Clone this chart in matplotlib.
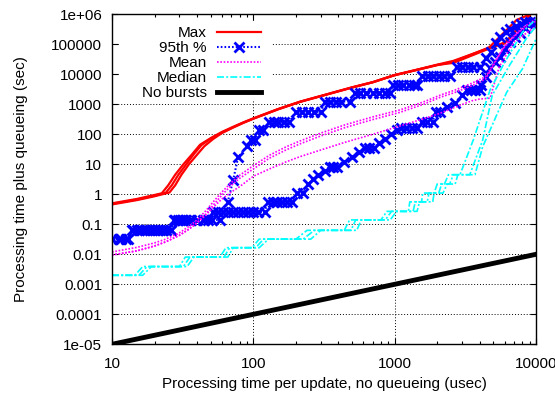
import matplotlib
matplotlib.use("Agg")
import matplotlib.pyplot as plt
from matplotlib.patches import Rectangle

plt.rcParams['font.family'] = ['Liberation Sans', 'DejaVu Sans']
plt.rcParams['font.size'] = 11

# ---------------- data ----------------
XTICKS = [10, 100, 1000, 10000]
XTICK_LABELS = ['10', '100', '1000', '10000']
YTICKS = [1e-5, 1e-4, 1e-3, 1e-2, 1e-1, 1, 10, 100, 1000, 1e4, 1e5, 1e6]
YTICK_LABELS = ['1e-05', '0.0001', '0.001', '0.01', '0.1', '1', '10', '100',
                '1000', '10000', '100000', '1e+06']

MAX1_X = [10, 15, 20, 22.5, 25, 28, 32, 37, 42, 50, 60, 72, 85, 100, 150, 214, 300,
          500, 700, 1000, 1500, 2000, 2600, 4600, 7300, 9100]
MAX1_Y = [0.5, 0.7, 0.95, 1.08, 2.0, 4.5, 10, 22, 45, 75, 120, 178, 250, 340, 700, 1230,
          1900, 3700, 5500, 9500, 15000, 21000, 28000, 74000, 650000, 1000000]
MAX2_X = [10, 15, 20, 24, 26.5, 29.5, 33.5, 38, 43, 50, 60, 72, 85, 100, 150, 214, 300,
          500, 700, 1000, 1500, 2000, 2600, 6200, 9100]
MAX2_Y = [0.48, 0.67, 0.9, 1.12, 2.0, 4.5, 10, 22, 44, 72, 115, 172, 245, 335, 690, 1210,
          1880, 3650, 5450, 9400, 14800, 20500, 24000, 123000, 1000000]
MAX3_X = [10, 15, 20, 25.5, 28, 31, 35, 40, 45, 52, 60, 72, 85, 100, 150, 214, 300,
          500, 700, 1000, 1500, 2000, 2600, 4700, 6000, 9100]
MAX3_Y = [0.46, 0.64, 0.86, 1.15, 2.0, 4.5, 10, 21, 40, 70, 110, 168, 240, 330, 680, 1200,
          1860, 3600, 5400, 9300, 14600, 20200, 26000, 80000, 108000, 1000000]

P95A_X = [10, 11.2, 12.5, 13.8, 15, 16.3, 17.7, 19.2, 20.8, 22.5, 24.3, 26,
          27.5, 29.3, 31.2, 33.2, 35.5, 45, 51, 58, 66, 72, 78, 90, 97, 103, 110, 117,
          130, 140, 150, 165, 180, 200, 220, 245, 270, 300, 320, 350, 385, 420, 480,
          520, 570, 630, 700, 780, 860, 930, 970, 1050, 1150, 1260, 1360, 1450,
          1570, 1720, 1880, 2060, 2250, 2450, 2760, 3000, 3300, 3600, 4000,
          4450, 4800, 5200, 5600, 6100, 6600, 7200, 7800, 8400, 9100, 9800]
P95A_Y = [0.032, 0.032, 0.032, 0.065, 0.065, 0.065, 0.065, 0.065, 0.065, 0.065, 0.065, 0.065,
          0.14, 0.14, 0.14, 0.14, 0.14, 0.14, 0.14, 0.14, 0.56, 3, 17, 40, 65, 65, 137, 137,
          260, 260, 260, 260, 260, 560, 560, 560, 560, 560, 1230, 1230, 1230, 1230, 1230,
          2400, 2400, 2400, 2400, 2400, 2400, 2400, 4400, 4400, 4400, 4400, 4400, 4400,
          9000, 9000, 9000, 9000, 9000, 9000, 18000, 18000, 18000, 18000, 18000,
          35000, 56000, 110000, 180000, 260000, 330000, 400000, 480000, 560000, 560000, 560000]
P95B_X = [10, 11.5, 13, 14, 15.5, 17, 18.5, 20, 22, 24, 26, 28, 30.5, 33, 36, 40, 44, 48,
          52, 56, 61, 66, 72, 78, 85, 92, 100, 108, 120, 127, 137, 148, 160, 173, 188,
          205, 225, 244, 265, 287, 320, 347, 368, 390, 440, 500, 560, 615, 660, 710,
          780, 850, 940, 1040, 1100, 1200, 1320, 1440, 1560, 1700, 1860, 1950, 2090,
          2350, 2680, 3000, 3240, 3450, 3700, 4000, 4100, 4400, 4730, 5100, 5570, 6000,
          6560, 7100, 7700, 8400, 9100, 9800]
P95B_Y = [0.032, 0.032, 0.032, 0.065, 0.065, 0.065, 0.065, 0.065, 0.065, 0.065, 0.065,
          0.14, 0.14, 0.14, 0.14, 0.14, 0.14, 0.14,
          0.26, 0.26, 0.26, 0.26, 0.26, 0.26, 0.26, 0.26, 0.26, 0.26, 0.26,
          0.56, 0.56, 0.56, 0.56, 0.56, 0.56, 1.1, 1.1, 2.2, 3.2, 4.4, 6, 8.3, 8.3, 8.3,
          12, 17, 25, 34, 34, 34, 50, 68, 100, 137, 160, 160, 160, 160, 265, 265, 265,
          560, 560, 800, 1070, 2000, 3000, 3000, 3000, 3000, 4400, 8000, 16000, 25000,
          39000, 70000, 120000, 180000, 240000, 350000, 500000, 500000]

MEAN1_X = [10, 15, 20, 24, 30, 35, 40, 46, 53, 60, 70, 80, 100, 130, 170, 214, 300, 450,
           700, 1090, 1600, 2090, 2680, 3500, 4400, 5200, 6200, 8000, 10000]
MEAN1_Y = [0.012, 0.017, 0.024, 0.032, 0.052, 0.085, 0.14, 0.28, 0.62, 1.2, 2.5, 4.3, 9,
           20, 38, 60, 110, 210, 380, 650, 1200, 2000, 3000, 5000, 8300, 30000, 110000,
           350000, 700000]
MEAN2_X = [10, 15, 20, 24, 30, 35, 40, 46, 53, 60, 70, 80, 100, 130, 170, 214, 300, 450,
           700, 1090, 1600, 2090, 2680, 3500, 4400, 5000, 5800, 7500, 10000]
MEAN2_Y = [0.0095, 0.013, 0.019, 0.026, 0.043, 0.07, 0.115, 0.22, 0.48, 0.95, 2.0, 3.4, 7,
           16, 30, 48, 88, 170, 310, 540, 1000, 1700, 2500, 4100, 7000, 20000, 70000,
           250000, 600000]
MEAN3_X = [10, 15, 20, 24, 30, 35, 40, 46, 53, 60, 70, 80, 100, 130, 170, 214, 300, 450,
           700, 1090, 1600, 2090, 2680, 3500, 4000, 4730, 5500, 7000, 10000]
MEAN3_Y = [0.0095, 0.013, 0.019, 0.026, 0.043, 0.068, 0.11, 0.2, 0.4, 0.7, 1.2, 1.8, 4.0,
           7, 12, 18, 30, 55, 100, 190, 330, 500, 800, 1300, 1500, 1600, 18000, 120000,
           400000]

MED1_X = [10, 14.5, 16.5, 30, 33, 58, 64, 98, 110, 200, 240, 440, 480, 800, 880, 1250,
          1280, 1550, 1580, 1900, 2000, 2250, 2400, 2900, 3600, 4730, 6000, 8000, 10000]
MED1_Y = [0.002, 0.002, 0.0039, 0.0039, 0.0081, 0.0081, 0.0166, 0.0166, 0.032, 0.032,
          0.063, 0.063, 0.14, 0.14, 0.27, 0.27, 0.56, 0.56, 1.1, 1.1, 2.2, 2.2, 4.5, 4.5,
          65, 3000, 25000, 250000, 700000]
MED2_X = [10, 15.5, 17.7, 32, 35.6, 62, 68, 104, 118, 225, 270, 490, 530, 860, 950, 1350,
          1400, 1700, 1750, 2050, 2150, 2450, 2600, 3400, 4200, 4900, 6500, 8500, 10000]
MED2_Y = [0.002, 0.002, 0.0039, 0.0039, 0.0081, 0.0081, 0.0166, 0.0166, 0.032, 0.032,
          0.063, 0.063, 0.14, 0.14, 0.27, 0.27, 0.56, 0.56, 1.1, 1.1, 2.2, 2.2, 4.5, 4.5,
          65, 2000, 20000, 150000, 400000]
MED3_X = [10, 16.5, 19, 34, 38, 66, 72, 110, 128, 255, 300, 540, 580, 930, 1030, 1440,
          1500, 1860, 1900, 2200, 2350, 2680, 2800, 3700, 4200, 4730, 6200, 8000, 10000]
MED3_Y = [0.002, 0.002, 0.0039, 0.0039, 0.0081, 0.0081, 0.0166, 0.0166, 0.032, 0.032,
          0.063, 0.063, 0.14, 0.14, 0.27, 0.27, 0.56, 0.56, 1.1, 1.1, 2.2, 2.2, 4.5, 4.5,
          39, 138, 2500, 15000, 150000]

NOB_X = [10, 10000]
NOB_Y = [1e-5, 0.01]

# ---------------- plot ----------------
fig = plt.figure(figsize=(5.55, 3.94), dpi=100)
ax = fig.add_axes([112 / 555, 1 - 344.3 / 394, 424 / 555, 330 / 394])
ax.set_xscale('log')
ax.set_yscale('log')
ax.set_xlim(10, 10000)
ax.set_ylim(1e-5, 1e6)

# dotted grid (drawn manually so the key box can mask it)
for v in YTICKS[1:-1]:
    ax.axhline(v, color='black', lw=0.7, ls=(0, (1, 2)), zorder=0.5)
for v in XTICKS[1:-1]:
    ax.axvline(v, color='black', lw=0.7, ls=(0, (1, 2)), zorder=0.5)
ax.add_patch(Rectangle((0.017, 0.739), 0.36, 0.241, transform=ax.transAxes,
                       facecolor='white', edgecolor='none', zorder=1.0))

RED, BLUE, MAG, CYAN = '#ff0000', '#0000ff', '#ff00ff', '#00ffff'

h_max = None
for x, y in [(MAX1_X, MAX1_Y), (MAX2_X, MAX2_Y), (MAX3_X, MAX3_Y)]:
    l, = ax.plot(x, y, color=RED, lw=1.6, zorder=2)
    h_max = h_max or l
h_95 = None
for x, y in [(P95A_X, P95A_Y), (P95B_X, P95B_Y)]:
    l, = ax.plot(x, y, color=BLUE, lw=1.5, ls=(0, (0.8, 1.0)), marker='x', ms=7,
                 mew=2.0, zorder=2.1)
    h_95 = h_95 or l
h_mean = None
for x, y in [(MEAN1_X, MEAN1_Y), (MEAN2_X, MEAN2_Y), (MEAN3_X, MEAN3_Y)]:
    l, = ax.plot(x, y, color=MAG, lw=1.2, ls=(0, (1, 1)), zorder=2.2)
    h_mean = h_mean or l
h_med = None
for x, y in [(MED1_X, MED1_Y), (MED2_X, MED2_Y), (MED3_X, MED3_Y)]:
    l, = ax.plot(x, y, color=CYAN, lw=1.2, ls=(0, (4.2, 1.3, 1.2, 1.3)), zorder=2.3)
    h_med = h_med or l
h_nob, = ax.plot(NOB_X, NOB_Y, color='black', lw=3.5, zorder=2.4)

ax.set_xticks(XTICKS, labels=XTICK_LABELS)
ax.set_yticks(YTICKS, labels=YTICK_LABELS)
ax.yaxis.set_minor_formatter(matplotlib.ticker.NullFormatter())
ax.xaxis.set_minor_formatter(matplotlib.ticker.NullFormatter())
ax.tick_params(which='both', direction='in', top=True, right=True, width=0.8)
ax.tick_params(which='major', length=4.5)
ax.tick_params(which='minor', length=2.3)
ax.tick_params(axis='x', which='major', pad=9)
ax.tick_params(axis='y', which='major', pad=7)
for s in ax.spines.values():
    s.set_linewidth(1.0)

ax.set_xlabel('Processing time per update, no queueing (usec)')
ax.set_ylabel('Processing time plus queueing (sec)')
ax.xaxis.set_label_coords(0.5, -0.1)
ax.yaxis.set_label_coords(-0.198, 0.5)

ax.legend([h_max, h_95, h_mean, h_med, h_nob],
          ['Max', '95th %', 'Mean', 'Median', 'No bursts'],
          loc='upper right', bbox_to_anchor=(0.3514, 0.965), frameon=False,
          markerfirst=False, borderpad=0, borderaxespad=0, handlelength=2.85,
          handletextpad=0.69, labelspacing=0.07, numpoints=1, fontsize=11)

fig.savefig('out.png', dpi=100)
